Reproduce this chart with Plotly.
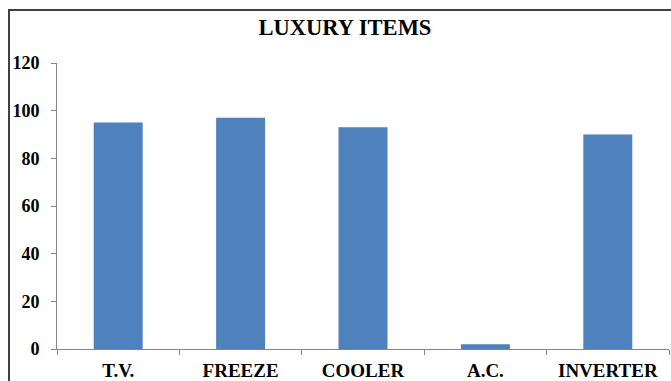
import plotly.graph_objects as go

categories = ["T.V.", "FREEZE", "COOLER", "A.C.", "INVERTER"]
values = [95, 97, 93, 2, 90]
y_ticks = [0, 20, 40, 60, 80, 100, 120]

W, H = 671, 381
L, R, T, B = 57, 2, 63, 32
pw = W - L - R
ph = H - T - B

fig = go.Figure(go.Bar(x=categories, y=values, marker=dict(color="#4F81BD", line=dict(width=0)), width=0.4))

font = "Liberation Serif, Times New Roman, serif"
fig.update_layout(
    width=W, height=H,
    margin=dict(l=L, r=R, t=T, b=B),
    paper_bgcolor="white", plot_bgcolor="white",
    showlegend=False,
    title=dict(text="LUXURY ITEMS", x=(345) / W, xanchor="center",
               y=1 - 27 / H, yanchor="middle",
               font=dict(family=font, size=22.5, color="black", weight="bold")),
    xaxis=dict(
        type="category", showgrid=False, showline=True, linecolor="#868686", linewidth=1,
        ticks="outside", tickson="boundaries", ticklen=5, tickcolor="#868686",
        tickfont=dict(family=font, size=19, color="black", weight="bold"),
        ticklabelstandoff=4, automargin=False,
    ),
    yaxis=dict(
        range=[0, 120], tickvals=y_ticks, showgrid=False, zeroline=False,
        showline=True, linecolor="#868686", linewidth=1,
        ticks="outside", ticklen=5, tickcolor="#868686",
        tickfont=dict(family=font, size=18, color="black", weight="bold"),
        ticklabelstandoff=8, automargin=False,
    ),
)

x0 = (9 - L) / pw
y1 = (H - B - 10) / ph
fig.add_shape(type="rect", xref="paper", yref="paper", x0=x0, x1=1.2, y0=-0.5, y1=y1,
              line=dict(color="#404040", width=2), fillcolor="rgba(0,0,0,0)", layer="above")

fig.write_html("out.html")
